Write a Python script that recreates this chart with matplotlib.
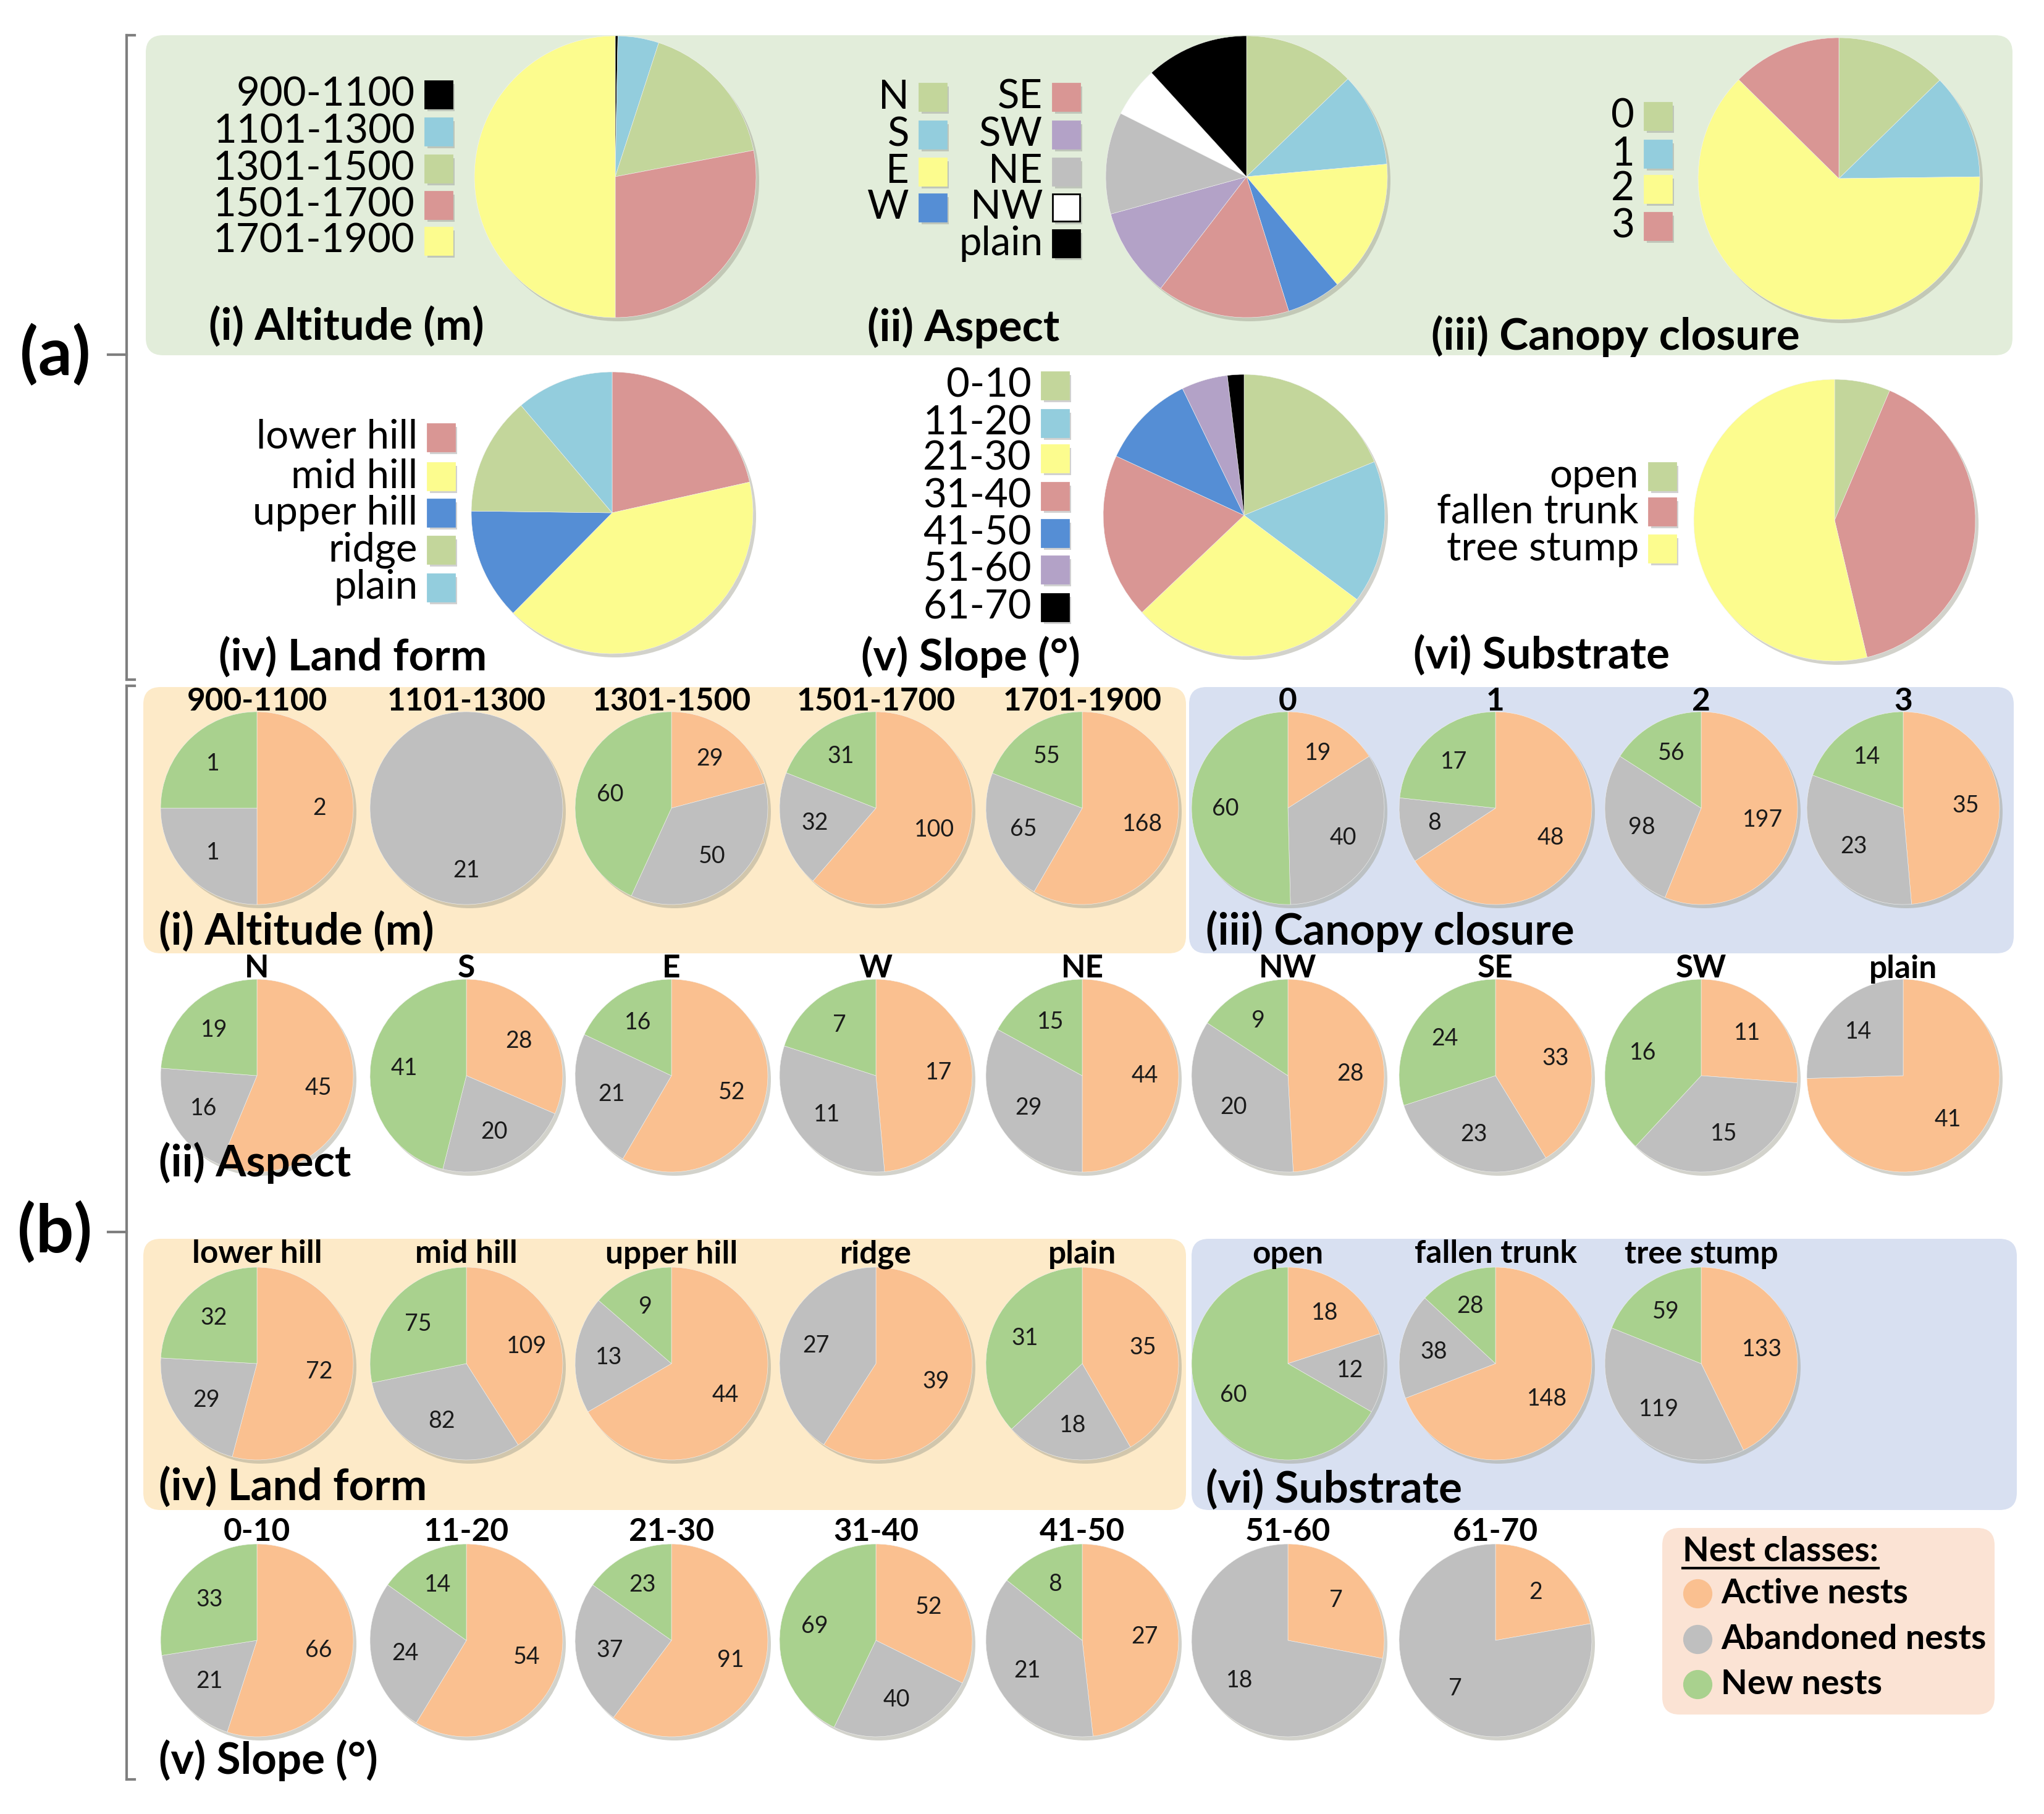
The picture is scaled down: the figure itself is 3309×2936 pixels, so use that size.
import numpy as np
import matplotlib
matplotlib.use("Agg")
import matplotlib.pyplot as plt
from matplotlib.patches import FancyBboxPatch, Rectangle, Circle

plt.rcParams['font.family'] = ['Lato', 'DejaVu Sans']

W, H = 3309, 2936

# ---------------- (a) overall shares (%) ----------------
alt_labels = ["900-1100", "1101-1300", "1301-1500", "1501-1700", "1701-1900"]
alt_share = [0.3, 4.7, 17.0, 28.0, 50.0]
asp_labels = ["N", "S", "E", "W", "SE", "SW", "NE", "NW", "plain"]
asp_share = [12.8, 10.8, 15.3, 6.3, 15.3, 10.3, 11.7, 5.8, 11.8]
can_labels = ["0", "1", "2", "3"]
can_share = [12.7, 12.1, 62.6, 12.6]
land_labels = ["lower hill", "mid hill", "upper hill", "ridge", "plain"]
land_share = [21.5, 40.9, 12.8, 13.6, 11.2]
slope_labels = ["0-10", "11-20", "21-30", "31-40", "41-50", "51-60", "61-70"]
slope_share = [18.8, 16.4, 27.7, 19.0, 10.9, 5.3, 1.9]
sub_labels = ["open", "fallen trunk", "tree stump"]
sub_share = [6.4, 39.9, 53.7]

# ---------------- (b) nest counts: active, abandoned, new ----------------
alt_active = [2, 0, 29, 100, 168]
alt_abandoned = [1, 21, 50, 32, 65]
alt_new = [1, 0, 60, 31, 55]

can_active = [19, 48, 197, 35]
can_abandoned = [40, 8, 98, 23]
can_new = [60, 17, 56, 14]

aspb_labels = ["N", "S", "E", "W", "NE", "NW", "SE", "SW", "plain"]
asp_active = [45, 28, 52, 17, 44, 28, 33, 11, 41]
asp_abandoned = [16, 20, 21, 11, 29, 20, 23, 15, 14]
asp_new = [19, 41, 16, 7, 15, 9, 24, 16, 0]

land_active = [72, 109, 44, 39, 35]
land_abandoned = [29, 82, 13, 27, 18]
land_new = [32, 75, 9, 0, 31]

sub_active = [18, 148, 133]
sub_abandoned = [12, 38, 119]
sub_new = [60, 28, 59]

slope_active = [66, 54, 91, 52, 27, 7, 2]
slope_abandoned = [21, 24, 37, 40, 21, 18, 7]
slope_new = [33, 14, 23, 69, 8, 0, 0]

nest_classes = ["Active nests", "Abandoned nests", "New nests"]

# colours
GREEN, BLUE, YELLOW, RED = "#c3d69b", "#93cddd", "#fcfc8e", "#d99694"
DBLUE, PURPLE, GRAY = "#558ed5", "#b3a2c7", "#bfbfbf"
alt_colors = ["#000000", BLUE, GREEN, RED, YELLOW]
asp_colors = [GREEN, BLUE, YELLOW, DBLUE, RED, PURPLE, GRAY, "#ffffff", "#000000"]
can_colors = [GREEN, BLUE, YELLOW, RED]
land_colors = [RED, YELLOW, DBLUE, GREEN, BLUE]
slope_colors = [GREEN, BLUE, YELLOW, RED, DBLUE, PURPLE, "#000000"]
sub_colors = [GREEN, RED, YELLOW]
nest_colors = ["#fac090", "#bfbfbf", "#a9d18e"]

fig = plt.figure(figsize=(W / 100, H / 100), dpi=100)
ax = fig.add_axes([0, 0, 1, 1])


def draw_pie(vals, colors, cx, cy, r, numbers=False):
    vals = list(vals)
    keep = [i for i, v in enumerate(vals) if v > 0]
    v2 = [vals[i] for i in keep]
    c2 = [colors[i] for i in keep]
    ax.add_patch(Circle((cx + 5, cy + 6), r, color="#9c9c8c", alpha=0.45, lw=0, zorder=2))
    # y axis is inverted: startangle -90 + counterclock gives clockwise from 12 o'clock
    wedges, _ = ax.pie(v2, colors=c2, center=(cx, cy), radius=r, startangle=-90,
                       counterclock=True, frame=True,
                       wedgeprops=dict(linewidth=0.4, edgecolor="#f4f4f4"))
    for w in wedges:
        w.set_zorder(3)
    if numbers:
        for w, v in zip(wedges, v2):
            mid = np.deg2rad((w.theta1 + w.theta2) / 2)
            ax.text(cx + 0.65 * r * np.cos(mid), cy + 0.65 * r * np.sin(mid), str(v),
                    ha='center', va='center', fontsize=27, color="#1a1a1a", zorder=4)


def draw_key(labels, colors, x_right, ys, sq=44):
    for lab, col, y in zip(labels, colors, ys):
        ax.text(x_right, y, lab, ha='right', va='center', fontsize=47, zorder=4)
        x0 = x_right + 16
        ax.add_patch(Rectangle((x0 + 4, y - sq / 2 + 5), sq, sq, color="#8c8c8c", alpha=0.4, lw=0, zorder=3))
        ax.add_patch(Rectangle((x0, y - sq / 2), sq, sq, facecolor=col,
                               edgecolor="#000000" if col == "#ffffff" else col, lw=2, zorder=4))


def box(x0, y0, x1, y1, color):
    ax.add_patch(FancyBboxPatch((x0, y0), x1 - x0, y1 - y0,
                                boxstyle="round,pad=0,rounding_size=28",
                                facecolor=color, edgecolor="none", zorder=1))


# ---------------- backgrounds ----------------
box(236, 57, 3258, 575, "#e2edda")
box(232, 1112, 1920, 1543, "#fdeac8")
box(1925, 1112, 3260, 1543, "#d8e0f1")
box(232, 2005, 1920, 2444, "#fdeac8")
box(1929, 2005, 3265, 2444, "#d8e0f1")
box(2691, 2473, 3229, 2775, "#fbe3d4")

# ---------------- brackets and (a) (b) ----------------
bc = "#7f7f7f"
ax.plot([205, 205], [57, 1100], color=bc, lw=3)
ax.plot([205, 218], [57, 57], color=bc, lw=3)
ax.plot([205, 218], [1100, 1100], color=bc, lw=3)
ax.plot([175, 205], [574, 574], color=bc, lw=3)
ax.plot([205, 205], [1110, 2880], color=bc, lw=3)
ax.plot([205, 218], [1110, 1110], color=bc, lw=3)
ax.plot([205, 218], [2880, 2880], color=bc, lw=3)
ax.plot([175, 205], [1994, 1994], color=bc, lw=3)
ax.text(89, 574, "(a)", ha='center', va='center', fontsize=78, fontweight='bold')
ax.text(89, 1994, "(b)", ha='center', va='center', fontsize=78, fontweight='bold')

# ---------------- (a) large pies ----------------
r_big = 228
draw_pie(alt_share, alt_colors, 996, 286, r_big)
draw_key(alt_labels, alt_colors, 672, [153, 213, 273, 332, 390])
draw_pie(asp_share, asp_colors, 2018, 286, r_big)
draw_key(asp_labels[:4], asp_colors[:4], 1472, [157, 218, 278, 336])
draw_key(asp_labels[4:], asp_colors[4:], 1688, [157, 218, 278, 336, 394])
draw_pie(can_share, can_colors, 2977, 289, r_big)
draw_key(can_labels, can_colors, 2646, [188, 249, 306, 366])
draw_pie(land_share, land_colors, 991, 830, r_big)
draw_key(land_labels, land_colors, 676, [708, 771, 830, 890, 951])
draw_pie(slope_share, slope_colors, 2014, 834, r_big)
draw_key(slope_labels, slope_colors, 1670, [624, 685, 742, 803, 863, 922, 983])
draw_pie(sub_share, sub_colors, 2970, 842, r_big)
draw_key(sub_labels, sub_colors, 2653, [771, 828, 888])

panel_fs = 51
for txt, x, y in [("(i) Altitude (m)", 338, 528), ("(ii) Aspect", 1404, 530),
                  ("(iii) Canopy closure", 2317, 544), ("(iv) Land form", 354, 1063),
                  ("(v) Slope (°)", 1394, 1063), ("(vi) Substrate", 2288, 1060)]:
    ax.text(x, y, txt, ha='left', va='center', fontsize=panel_fs, fontweight='bold', zorder=5)

# ---------------- (b) small pies ----------------
xs = [416, 755, 1087, 1418, 1752, 2085, 2421, 2754, 3081]
r_small = 156


def pie_row(labels, act, aban, new, x_list, y_title, y_pie):
    for lab, a, b, n, x in zip(labels, act, aban, new, x_list):
        ax.text(x, y_title, lab, ha='center', va='center', fontsize=37, fontweight='bold', zorder=5)
        draw_pie([a, b, n], nest_colors, x, y_pie, r_small, numbers=True)


pie_row(alt_labels, alt_active, alt_abandoned, alt_new, xs[:5], 1135, 1308)
pie_row(can_labels, can_active, can_abandoned, can_new, xs[5:], 1135, 1308)
pie_row(aspb_labels, asp_active, asp_abandoned, asp_new, xs, 1568, 1741)
pie_row(land_labels, land_active, land_abandoned, land_new, xs[:5], 2030, 2207)
pie_row(sub_labels, sub_active, sub_abandoned, sub_new, xs[5:8], 2030, 2207)
pie_row(slope_labels, slope_active, slope_abandoned, slope_new, xs[:7], 2480, 2655)

for txt, x, y in [("(i) Altitude (m)", 257, 1507), ("(iii) Canopy closure", 1952, 1507),
                  ("(ii) Aspect", 257, 1882), ("(iv) Land form", 257, 2406),
                  ("(vi) Substrate", 1952, 2410), ("(v) Slope (°)", 257, 2849)]:
    ax.text(x, y, txt, ha='left', va='center', fontsize=panel_fs, fontweight='bold', zorder=5)

# ---------------- legend for nest classes ----------------
t = ax.text(2724, 2511, "Nest classes:", ha='left', va='center', fontsize=40, fontweight='bold', zorder=5)
for lab, col, y in zip(nest_classes, nest_colors, [2579, 2653, 2726]):
    ax.plot(2748, y, 'o', ms=33, color=col, mec=col, zorder=5)
    ax.text(2786, y, lab, ha='left', va='center', fontsize=40, fontweight='bold', zorder=5)

ax.set_aspect('equal')
ax.set_xlim(0, W)
ax.set_ylim(H, 0)
ax.axis('off')

fig.canvas.draw()
bb = t.get_window_extent(fig.canvas.get_renderer())
ax.plot([bb.x0, bb.x1], [H - bb.y0 + 2, H - bb.y0 + 2], color="#000000", lw=3, zorder=5)

fig.savefig("out.png", dpi=100, facecolor="white")
